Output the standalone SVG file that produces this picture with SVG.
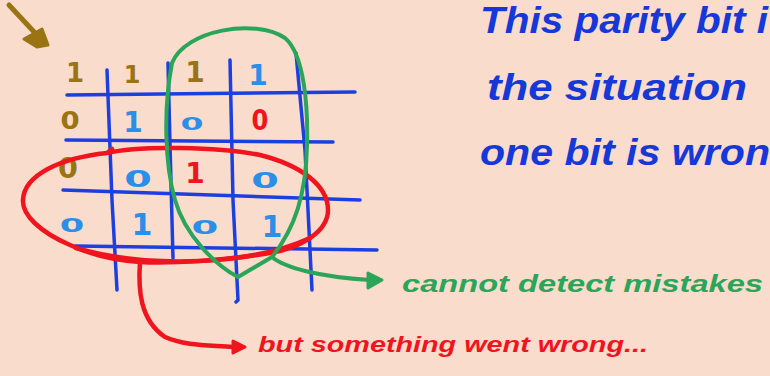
<svg xmlns="http://www.w3.org/2000/svg" width="770" height="376" viewBox="0 0 770 376">
<style>
.grid{stroke:#1c3fe0;stroke-width:3.5;stroke-linecap:round;fill:none}
.d{font-family:"DejaVu Sans",sans-serif;font-weight:bold;text-anchor:middle}
.brown{fill:#9a7412}
.lb{fill:#2b8ee8}
.rd{fill:#f0141e}
.hand{font-family:"Liberation Sans",Arial,sans-serif;font-style:italic;font-weight:bold}
.gl{stroke:#2aa55a;stroke-width:4;fill:none;stroke-linecap:round;stroke-linejoin:round}
.rl{stroke:#f0141e;stroke-width:4.5;fill:none;stroke-linecap:round;stroke-linejoin:round}
</style>
<rect width="770" height="376" fill="#f9dccb"/>

<g id="pointer">
<path d="M9,5 L36,34" stroke="#9a7412" stroke-width="5" stroke-linecap="round"/>
<polygon points="24,39 42,29 48,45 37,47" fill="#9a7412" stroke="#9a7412" stroke-width="3" stroke-linejoin="round"/>
</g>

<g id="grid">
<path class="grid" d="M67,95 L355,92"/>
<path class="grid" d="M66,140 L333,142"/>
<path class="grid" d="M63,190 L360,200"/>
<path class="grid" d="M75,246 L377,250"/>
<path class="grid" d="M107,70 L112,200 L117,290"/>
<path class="grid" d="M168,63 L170,145 L173,258"/>
<path class="grid" d="M230,60 L233,200 L238,300 L236,302"/>
<path class="grid" d="M296,53 L305,150 L312,290"/>
</g>

<g id="digits">
<text class="d brown" x="75" y="82" font-size="26">1</text>
<text class="d brown" x="132" y="83" font-size="24">1</text>
<text class="d brown" x="195" y="82" font-size="28">1</text>
<text class="d lb" x="258" y="85" font-size="28">1</text>

<text class="d brown" transform="translate(70,129) scale(1.25,1.15)" font-size="22">0</text>
<text class="d lb" x="133" y="132" font-size="28">1</text>
<text class="d lb" transform="translate(192,130) scale(1.5,0.8)" font-size="22">0</text>
<text class="d rd" transform="translate(260,130) scale(1.1,1.25)" font-size="22">0</text>

<text class="d brown" transform="translate(68,178) scale(1.3,1.25)" font-size="22">0</text>
<text class="d lb" transform="translate(138,187) scale(1.8,1.05)" font-size="22">0</text>
<text class="d rd" x="195" y="183" font-size="28">1</text>
<text class="d lb" transform="translate(265,188) scale(1.8,1.0)" font-size="22">0</text>

<text class="d lb" transform="translate(72,232) scale(1.6,0.85)" font-size="22">0</text>
<text class="d lb" x="142" y="235" font-size="30">1</text>
<text class="d lb" transform="translate(205,234) scale(1.75,0.85)" font-size="22">0</text>
<text class="d lb" x="272" y="237" font-size="30">1</text>
</g>

<g id="red-loop">
<path class="rl" d="M107,153 C140,145 220,147 260,155 C300,165 328,185 328,210 C328,232 300,248 270,253 C230,260 170,264 140,262 C110,260 85,252 70,245 C40,232 22,215 23,200 C24,175 60,158 107,153 L112,149"/>
<path class="rl" stroke-width="6" d="M76,248 C110,258 150,263 200,261 C240,259 280,252 310,238"/>
</g>

<g id="green-loop">
<path class="gl" d="M172,63 C185,30 255,18 285,38 C305,55 308,110 307,145 C306,195 295,228 272,257 L238,277 C215,265 185,235 175,200 C165,165 163,110 172,63"/>
</g>

<g id="connectors">
<path class="gl" d="M272,257 C285,268 320,277 370,280"/>
<polygon points="368,273 382,280 368,288" fill="#2aa55a" stroke="#2aa55a" stroke-width="3" stroke-linejoin="round"/>
<path class="rl" d="M140,262 C138,290 140,320 165,337 C185,346 210,345 233,347"/>
<polygon points="233,341 245,347 233,353" fill="#f0141e" stroke="#f0141e" stroke-width="3" stroke-linejoin="round"/>
</g>

<g id="note" fill="#1638d8">
<text class="hand" x="480" y="33" font-size="36" textLength="288" lengthAdjust="spacingAndGlyphs">This parity bit i</text>
<text class="hand" x="487" y="100" font-size="36" textLength="260" lengthAdjust="spacingAndGlyphs">the situation</text>
<text class="hand" x="480" y="165" font-size="36" textLength="290" lengthAdjust="spacingAndGlyphs">one bit is wron</text>
</g>

<g id="label-green">
<text class="hand" x="402" y="292" font-size="23" fill="#2aa55a" textLength="361" lengthAdjust="spacingAndGlyphs">cannot detect mistakes</text>
</g>
<g id="label-red">
<text class="hand" x="258" y="352" font-size="22" fill="#f0141e" textLength="390" lengthAdjust="spacingAndGlyphs">but something went wrong...</text>
</g>
</svg>
